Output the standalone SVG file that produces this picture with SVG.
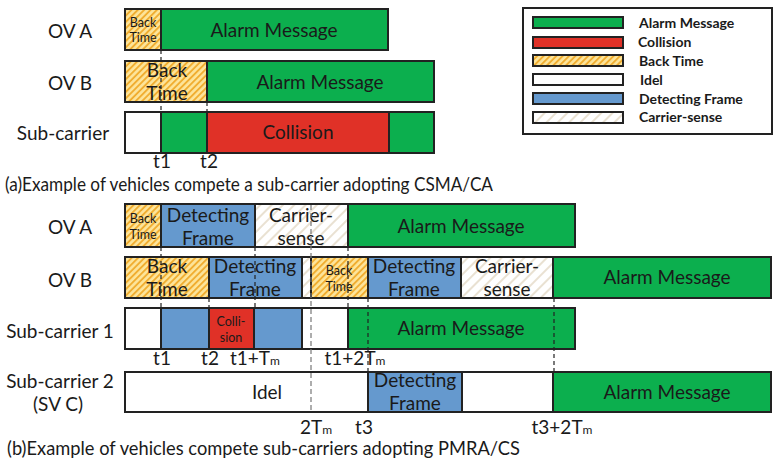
<svg xmlns="http://www.w3.org/2000/svg" width="773" height="460" viewBox="0 0 773 460">
<defs>
<pattern id="hBack" width="4.5" height="4.5" patternUnits="userSpaceOnUse" patternTransform="rotate(45)">
<rect width="4.5" height="4.5" fill="#FDE59B"/>
<line x1="1" y1="0" x2="1" y2="4.5" stroke="#F0AA2A" stroke-width="1.8"/>
</pattern>
<pattern id="hCS" width="8" height="8" patternUnits="userSpaceOnUse" patternTransform="rotate(45)">
<rect width="8" height="8" fill="#FFFFFF"/>
<line x1="1" y1="0" x2="1" y2="8" stroke="#D4C3A6" stroke-width="1"/>
</pattern>
</defs>
<style>
.s{stroke:#222;stroke-width:2}
.g{fill:#0CAF4E}
.r{fill:#E03127}
.b{fill:#6599CE}
.w{fill:#FFFFFF}
.bt{fill:url(#hBack)}
.cs{fill:url(#hCS)}
text{font-family:Lato,"Open Sans","Liberation Sans",sans-serif;fill:#1a1a1a}
.t{font-size:19px;text-anchor:middle}
.sm{font-size:12.5px;text-anchor:middle}
.lb{font-size:19px;text-anchor:middle}
.lg{font-size:14px;font-weight:bold}
.cap{font-size:19px}
.d{stroke:#222;stroke-width:1.2;stroke-dasharray:4,3;fill:none}
.dg{stroke:#777;stroke-width:1.2;stroke-dasharray:5,3;fill:none}
</style>
<rect width="773" height="460" fill="#FFFFFF"/>

<g id="row-labels">
<text class="lb" x="70" y="37.5">OV A</text>
<text class="lb" x="70" y="89.5">OV B</text>
<text class="lb" x="63" y="140">Sub-carrier</text>
<text class="lb" x="70" y="233.5">OV A</text>
<text class="lb" x="70" y="286.5">OV B</text>
<text class="lb" x="60" y="337.5">Sub-carrier 1</text>
<text class="lb" x="60" y="387.5">Sub-carrier 2</text>
<text class="lb" x="58" y="410.5">(SV C)</text>
</g>

<g id="a-ovA">
<rect class="s bt" x="125" y="9" width="36" height="41"/>
<rect class="s g" x="161" y="9" width="227" height="41"/>
<text class="sm" x="143" y="26.5">Back</text>
<text class="sm" x="143" y="41.5">Time</text>
<text class="t" x="274" y="36.5">Alarm Message</text>
</g>
<g id="a-ovB">
<rect class="s bt" x="125" y="61" width="82" height="41"/>
<rect class="s g" x="207" y="61" width="227" height="41"/>
<text class="t" x="167" y="77">Back</text>
<text class="t" x="167" y="100">Time</text>
<text class="t" x="320" y="88.5">Alarm Message</text>
</g>
<g id="a-sub">
<rect class="s w" x="125" y="112" width="36" height="41"/>
<rect class="s g" x="161" y="112" width="46" height="41"/>
<rect class="s r" x="207" y="112" width="182" height="41"/>
<rect class="s g" x="389" y="112" width="45" height="41"/>
<text class="t" x="298" y="139">Collision</text>
</g>

<g id="legend">
<rect x="523" y="8" width="249" height="126" fill="#FFFFFF" class="s"/>
<rect class="s g" x="533" y="17" width="90" height="11"/>
<rect class="s r" x="533" y="37" width="90" height="11"/>
<rect class="s bt" x="533" y="55" width="90" height="11"/>
<rect class="s w" x="533" y="74" width="90" height="11"/>
<rect class="s b" x="533" y="93" width="90" height="11"/>
<rect class="s cs" x="533" y="112" width="90" height="11"/>
<text class="lg" x="639" y="28">Alarm Message</text>
<text class="lg" x="638" y="47">Collision</text>
<text class="lg" x="639" y="66">Back Time</text>
<text class="lg" x="640" y="85">Idel</text>
<text class="lg" x="639" y="104">Detecting Frame</text>
<text class="lg" x="639" y="122">Carrier-sense</text>
</g>

<g id="b-ovA">
<rect class="s bt" x="125" y="204" width="36" height="43"/>
<rect class="s b" x="161" y="204" width="94" height="43"/>
<rect class="s cs" x="255" y="204" width="93" height="43"/>
<rect class="s g" x="348" y="204" width="227" height="43"/>
<text class="sm" x="143" y="222.5">Back</text>
<text class="sm" x="143" y="238.5">Time</text>
<text class="t" x="208" y="221.5">Detecting</text>
<text class="t" x="208" y="244.5">Frame</text>
<text class="t" x="301" y="221.5">Carrier-</text>
<text class="t" x="301" y="244.5">sense</text>
<text class="t" x="461" y="232.5">Alarm Message</text>
</g>
<g id="b-ovB">
<rect class="s bt" x="125" y="257" width="84" height="41"/>
<rect class="s b" x="209" y="257" width="93" height="41"/>
<rect class="s cs" x="302" y="257" width="9" height="41"/>
<rect class="s bt" x="311" y="257" width="57" height="41"/>
<rect class="s b" x="368" y="257" width="93" height="41"/>
<rect class="s cs" x="461" y="257" width="92" height="41"/>
<rect class="s g" x="553" y="257" width="218" height="41"/>
<text class="t" x="167" y="272.5">Back</text>
<text class="t" x="167" y="296">Time</text>
<text class="t" x="255" y="272.5">Detecting</text>
<text class="t" x="255" y="296">Frame</text>
<text class="sm" x="339" y="274.5">Back</text>
<text class="sm" x="339" y="290.5">Time</text>
<text class="t" x="414" y="272.5">Detecting</text>
<text class="t" x="414" y="296">Frame</text>
<text class="t" x="507" y="272.5">Carrier-</text>
<text class="t" x="507" y="296">sense</text>
<text class="t" x="667" y="283.5">Alarm Message</text>
</g>
<g id="b-sub1">
<rect class="s w" x="125" y="308" width="36" height="41"/>
<rect class="s b" x="161" y="308" width="48" height="41"/>
<rect class="s r" x="209" y="308" width="45" height="41"/>
<rect class="s b" x="254" y="308" width="48" height="41"/>
<rect class="s w" x="302" y="308" width="46" height="41"/>
<rect class="s g" x="348" y="308" width="227" height="41"/>
<text class="sm" x="231" y="325.5">Colli-</text>
<text class="sm" x="231" y="341.5">sion</text>
<text class="t" x="461" y="334.5">Alarm Message</text>
</g>
<g id="b-sub2">
<rect class="s w" x="125" y="372" width="243" height="40"/>
<rect class="s b" x="368" y="372" width="94" height="40"/>
<rect class="s w" x="462" y="372" width="91" height="40"/>
<rect class="s g" x="553" y="372" width="218" height="40"/>
<text class="t" x="267" y="398.5">Idel</text>
<text class="t" x="415" y="386.5">Detecting</text>
<text class="t" x="415" y="409.5">Frame</text>
<text class="t" x="667" y="398.5">Alarm Message</text>
</g>

<g id="connectors">
<line class="d" x1="161" y1="50" x2="161" y2="112"/>
<line class="d" x1="207" y1="102" x2="207" y2="112"/>
<line class="d" x1="161" y1="247" x2="161" y2="308"/>
<line class="d" x1="209" y1="298" x2="209" y2="308"/>
<line class="d" x1="255" y1="247" x2="255" y2="308"/>
<line class="d" x1="348" y1="247" x2="348" y2="308"/>
<line class="d" x1="368" y1="298" x2="368" y2="372"/>
<line class="d" x1="554" y1="298" x2="554" y2="372"/>
<line class="dg" x1="311" y1="205" x2="311" y2="412"/>
</g>

<g id="time-labels">
<text class="lb" x="162" y="168">t1</text>
<text class="lb" x="209" y="168">t2</text>
<text class="lb" x="162" y="364.5">t1</text>
<text class="lb" x="210" y="364.5">t2</text>
<text class="lb" x="255" y="364.5">t1+T<tspan font-size="12">m</tspan></text>
<text class="lb" x="355" y="364.5">t1+2T<tspan font-size="12">m</tspan></text>
<text class="lb" x="316" y="433.5">2T<tspan font-size="12">m</tspan></text>
<text class="lb" x="364" y="433.5">t3</text>
<text class="lb" x="562" y="433.5">t3+2T<tspan font-size="12">m</tspan></text>
</g>

<g id="captions">
<text class="cap" x="5" y="191" textLength="488" lengthAdjust="spacingAndGlyphs">(a)Example of vehicles compete a sub-carrier adopting CSMA/CA</text>
<text class="cap" x="7" y="455" textLength="513" lengthAdjust="spacingAndGlyphs">(b)Example of vehicles compete sub-carriers adopting PMRA/CS</text>
</g>
</svg>
